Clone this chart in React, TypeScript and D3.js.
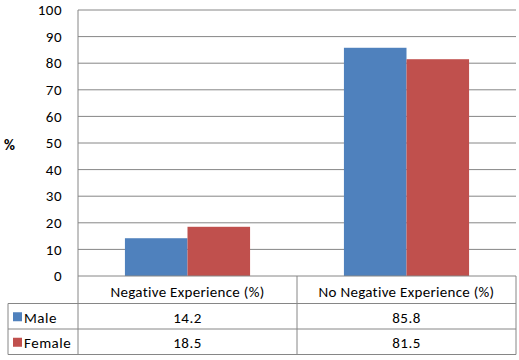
import React from "react";
import * as d3 from "d3";

const categories = ["Negative Experience (%)", "No Negative Experience (%)"];
const seriesNames = ["Male", "Female"];
const maleValues = [14.2, 85.8];
const femaleValues = [18.5, 81.5];
const yTicks = [0, 10, 20, 30, 40, 50, 60, 70, 80, 90, 100];
const colors = ["#4F81BD", "#C0504D"];

export default function App() {
  const W = 519, H = 360;
  const left = 78, right = 516, top = 10, bottom = 276;
  const tableX0 = 8;
  const rowH = 25.5;
  const font = "Carlito, Calibri, 'Liberation Sans', Arial, sans-serif";
  const fs = 15;
  const x = d3.scaleBand().domain(categories).range([left, right]).paddingInner(0).paddingOuter(0);
  const y = d3.scaleLinear().domain([0, 100]).range([bottom, top]);
  const inner = d3.scaleBand().domain(seriesNames).range([0, x.bandwidth()]).paddingOuter(0.75).paddingInner(0);
  const series = [maleValues, femaleValues];
  const grid = "#868686";
  const rows = [bottom, bottom + 27.5, bottom + 27.5 + rowH, bottom + 27.5 + 2 * rowH];
  return (
    <svg width={W} height={H} style={{ position: "absolute", left: 0, top: 0 }} fontFamily={font}>
      <rect width={W} height={H} fill="#fff" />
      {yTicks.map((t) => (
        <g key={t}>
          {t > 0 && <line x1={left} x2={right} y1={y(t)} y2={y(t)} stroke={grid} strokeWidth={1} />}
          <text x={62} y={y(t)} dy="0.35em" textAnchor="end" fontSize={fs} fill="#000" letterSpacing={0.5}>{t}</text>
        </g>
      ))}
      <text x={4} y={145} fontSize={fs} fontWeight="bold" dy="0.35em">%</text>
      {series.map((vals, si) =>
        categories.map((c, ci) => (
          <rect key={si + "-" + ci}
            x={(x(c) ?? 0) + (inner(seriesNames[si]) ?? 0)}
            y={y(vals[ci])}
            width={inner.bandwidth()}
            height={y(0) - y(vals[ci])}
            fill={colors[si]} />
        ))
      )}
      <line x1={left} x2={left} y1={top} y2={rows[3]} stroke={grid} />
      <line x1={left} x2={right} y1={rows[0]} y2={rows[0]} stroke={grid} />
      {rows.slice(1).map((ry, i) => (
        <line key={i} x1={tableX0} x2={right} y1={ry} y2={ry} stroke={grid} />
      ))}
      <line x1={tableX0} x2={tableX0} y1={rows[1]} y2={rows[3]} stroke={grid} />
      {categories.map((c) => (
        <line key={c} x1={(x(c) ?? 0) + x.bandwidth()} x2={(x(c) ?? 0) + x.bandwidth()} y1={rows[0]} y2={rows[3]} stroke={grid} />
      ))}
      {categories.map((c) => (
        <text key={c} x={(x(c) ?? 0) + x.bandwidth() / 2} y={(rows[0] + rows[1]) / 2 + 2} dy="0.35em" textAnchor="middle" fontSize={fs} letterSpacing={0.3}>{c}</text>
      ))}
      {seriesNames.map((s, si) => (
        <g key={s}>
          <rect x={13} y={(rows[si + 1] + rows[si + 2]) / 2 - 4} width={9} height={9} fill={colors[si]} />
          <text x={24} y={(rows[si + 1] + rows[si + 2]) / 2 + 1} dy="0.35em" fontSize={fs} letterSpacing={0.5}>{s}</text>
          {categories.map((c, ci) => (
            <text key={c} x={(x(c) ?? 0) + x.bandwidth() / 2} y={(rows[si + 1] + rows[si + 2]) / 2 + 1} dy="0.35em" textAnchor="middle" fontSize={fs} letterSpacing={0.5}>
              {series[si][ci].toFixed(1)}
            </text>
          ))}
        </g>
      ))}
    </svg>
  );
}
